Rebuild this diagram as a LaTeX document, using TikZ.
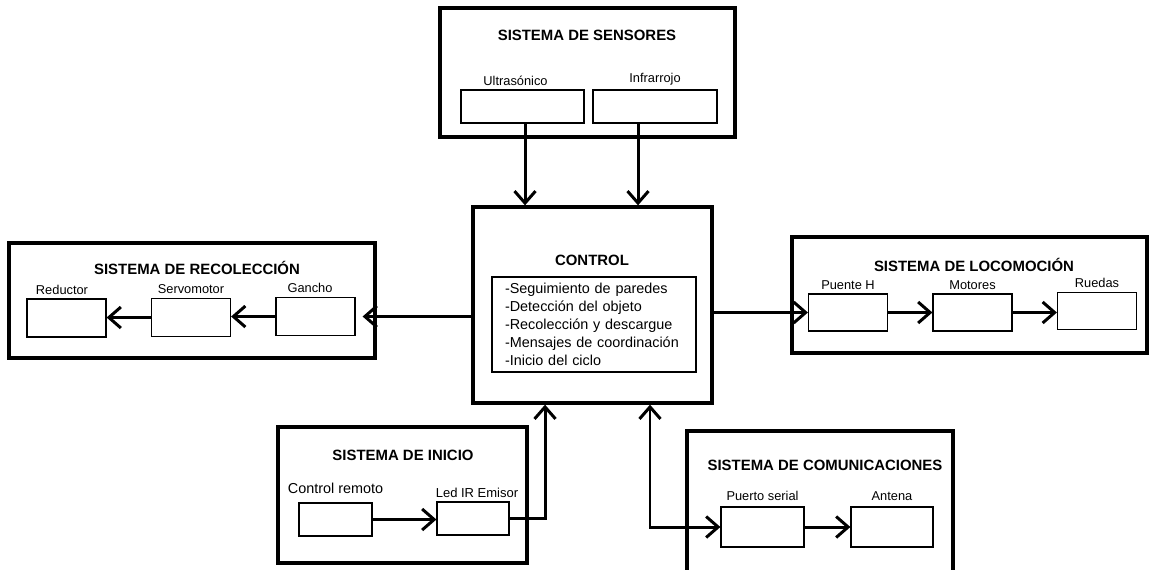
\documentclass[tikz,border=0pt]{standalone}
\usepackage{fontspec}
\setmainfont{Liberation Sans}
\usetikzlibrary{arrows.meta, positioning}

\tikzset{punta/.tip={Straight Barb[length=2.4mm, width=4.2mm]}}

\begin{document}
\begin{tikzpicture}[x=0.02cm, y=-0.02cm,
        sistema/.style={draw, line width=1.9pt, inner sep=0pt},
        bloque/.style={draw, line width=0.7pt, minimum width=1.58cm, minimum height=0.76cm, inner sep=0pt},
        titulo/.style={font=\fontsize{8.5}{10}\selectfont\bfseries},
        etiqueta/.style={font=\fontsize{7.3}{8.6}\selectfont, inner sep=1pt},
        flecha/.style={line width=1.7pt, -punta}
    ]
        \path[use as bounding box, clip] (0,0) rectangle (1152,569);

        % Sistema de sensores
        \node[sistema, minimum width=5.9cm, minimum height=2.58cm] (sensores) at (587.5,72.5) {};
        \node[titulo] (tsensores) at (587,35) {SISTEMA DE SENSORES};
        \node[bloque, minimum width=2.46cm, minimum height=0.66cm] (ultra) at (522.5,106.5) {};
        \node[bloque, minimum width=2.48cm, minimum height=0.66cm] (infra) at (655,106.5) {};
        \node[etiqueta, above=1pt of ultra, xshift=-0.14cm] (lultra) {Ultrasónico};
        \node[etiqueta, above=1pt of infra] (linfra) {Infrarrojo};

        % Control
        \node[sistema, minimum width=4.78cm, minimum height=3.92cm] (control) at (592.5,305) {};
        \node[titulo] (tcontrol) at (592,260) {CONTROL};
        \node[draw, line width=0.7pt, minimum width=4.08cm, minimum height=1.9cm, text width=3.56cm,
              inner xsep=0.26cm, align=left, font=\fontsize{8.2}{10.2}\selectfont] (lista) at (594,324.5)
            {-Seguimiento de paredes\\-Detección del objeto\\-Recolección y descargue\\-Mensajes de coordinación\\-Inicio del ciclo};

        % Sistema de recoleccion
        \node[sistema, minimum width=7.32cm, minimum height=2.3cm] (recoleccion) at (192,300.5) {};
        \node[titulo] (trecoleccion) at (197,268) {SISTEMA DE RECOLECCIÓN};
        \node[bloque] (reductor) at (66.5,318) {};
        \node[bloque] (servo) at (191,317.5) {};
        \node[bloque] (gancho) at (315.5,316.5) {};
        \node[etiqueta, above=1pt of reductor, xshift=-0.09cm] (lreductor) {Reductor};
        \node[etiqueta, above=1pt of servo] (lservo) {Servomotor};
        \node[etiqueta, above=1pt of gancho, xshift=-0.11cm] (lgancho) {Gancho};

        % Sistema de locomocion
        \node[sistema, minimum width=7.1cm, minimum height=2.32cm] (locomocion) at (969.5,295) {};
        \node[titulo] (tlocomocion) at (974,265) {SISTEMA DE LOCOMOCIÓN};
        \node[bloque, minimum height=0.74cm] (puente) at (848,312.5) {};
        \node[bloque, minimum height=0.74cm] (motores) at (972.5,312.5) {};
        \node[bloque, minimum height=0.74cm] (ruedas) at (1097,311) {};
        \node[etiqueta, above=1pt of puente] (lpuente) {Puente H};
        \node[etiqueta, above=1pt of motores] (lmotores) {Motores};
        \node[etiqueta, above=1pt of ruedas] (lruedas) {Ruedas};

        % Sistema de inicio
        \node[sistema, minimum width=4.98cm, minimum height=2.72cm] (inicio) at (402.5,495) {};
        \node[titulo] (tinicio) at (403,455) {SISTEMA DE INICIO};
        \node[bloque, minimum width=1.46cm, minimum height=0.66cm] (remoto) at (335.5,519.5) {};
        \node[bloque, minimum width=1.44cm, minimum height=0.66cm] (led) at (473,518.5) {};
        \node[etiqueta, above=4pt of remoto, font=\fontsize{8.2}{9.8}\selectfont] (lremoto) {Control remoto};
        \node[etiqueta, above=1pt of led, xshift=0.08cm, font=\fontsize{7.4}{8.8}\selectfont] (lled) {Led IR Emisor};

        % Sistema de comunicaciones
        \node[sistema, minimum width=5.32cm, minimum height=4.18cm] (comunicaciones) at (820,535.5) {};
        \node[titulo] (tcomunicaciones) at (825,465) {SISTEMA DE COMUNICACIONES};
        \node[bloque, minimum width=1.66cm, minimum height=0.8cm] (puerto) at (762.5,527) {};
        \node[bloque, minimum width=1.64cm, minimum height=0.8cm] (antena) at (892,527) {};
        \node[etiqueta, above=2pt of puerto] (lpuerto) {Puerto serial};
        \node[etiqueta, above=2pt of antena] (lantena) {Antena};

        % Conexiones
        \draw[flecha] ([xshift=0.05cm]ultra.south) -- ([xshift=0.05cm]ultra.south |- control.north);
        \draw[flecha] ([xshift=-0.34cm]infra.south) -- ([xshift=-0.34cm]infra.south |- control.north);
        \draw[flecha, shorten >=0.14cm] (control.west |- gancho.east) -- (gancho.east);
        \draw[flecha] (gancho.west) -- (gancho.west -| servo.east);
        \draw[flecha] (servo.west) -- (servo.west -| reductor.east);
        \draw[flecha] (control.east |- puente.west) -- (puente.west);
        \draw[flecha] (puente.east) -- (motores.west);
        \draw[flecha] (motores.east) -- (motores.east -| ruedas.west);
        \draw[flecha] (remoto.east) -- (remoto.east -| led.west);
        \draw[flecha] (led.east) -| ([xshift=-0.95cm]control.south);
        \draw[flecha, punta-punta] ([xshift=1.15cm]control.south) |- (puerto.west);
        \draw[flecha] (puerto.east) -- (antena.west);

    \end{tikzpicture}
\end{document}
